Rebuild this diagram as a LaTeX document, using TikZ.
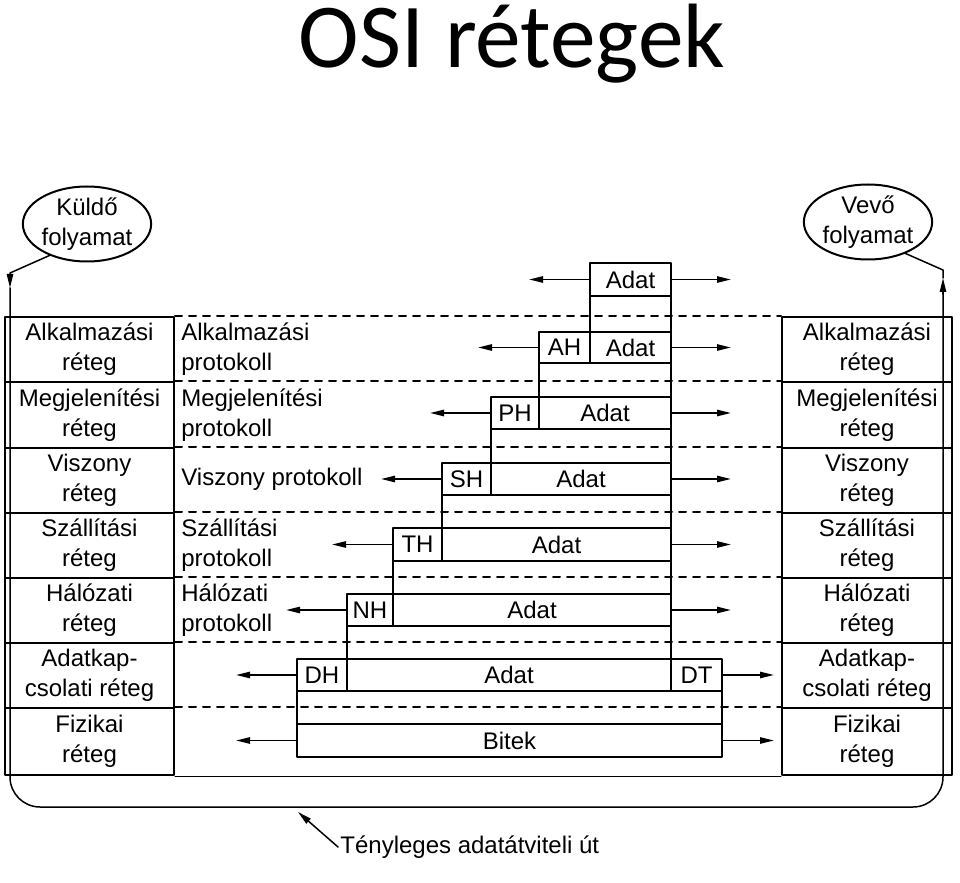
\documentclass[tikz,border=0pt]{standalone}
\usepackage{fontspec}
\setmainfont{Liberation Sans}
\newfontfamily\titlefont{Carlito}
\usetikzlibrary{arrows.meta,shapes.geometric,fit}

\begin{document}
\begin{tikzpicture}[line cap=round,line join=round,>={Triangle[length=7pt,width=3.2pt]},x=0.5pt,y=-0.5pt,
  txt/.style={font=\fontsize{12}{15}\selectfont},
  every label/.style={txt,align=center,inner sep=0pt},
  layerbox/.style={draw,line width=1pt,inner sep=0pt},
  hdr/.style={draw,line width=1pt,inner sep=0pt},
  proto/.style={txt,anchor=west,align=left,inner sep=0pt},
  proc/.style={txt,draw,ellipse,line width=1pt,minimum width=63.5pt,minimum height=37.5pt,inner sep=0pt,align=center},
  layerline/.style={line width=1pt,dash pattern=on 3.5pt off 3.5pt},
  flow/.style={line width=0.75pt}]

\useasboundingbox (0,0) rectangle (960,883);

\node[font=\titlefont\fontsize{45.7}{50}\selectfont,anchor=base] (title) at (512,68) {OSI rétegek};

% kuldo oldal
\node[proc] (kuldo) at (87,224) {Küldő\\folyamat};
\node[layerbox,fit={(5,317) (174,382)},label=center:Alkalmazási\\réteg] (lalk) {};
\node[layerbox,fit={(5,382) (174,448)},label=center:Megjelenítési\\réteg] (lmeg) {};
\node[layerbox,fit={(5,448) (174,513)},label=center:Viszony\\réteg] (lvis) {};
\node[layerbox,fit={(5,513) (174,578)},label=center:Szállítási\\réteg] (lszal) {};
\node[layerbox,fit={(5,578) (174,643)},label=center:Hálózati\\réteg] (lhal) {};
\node[layerbox,fit={(5,643) (174,708)},label=center:Adatkap-\\csolati réteg] (ladat) {};
\node[layerbox,fit={(5,708) (174,775)},label=center:Fizikai\\réteg] (lfiz) {};

% vevo oldal
\node[proc] (vevo) at (868,222) {Vevő\\folyamat};
\node[layerbox,fit={(782,317) (952,382)},label=center:Alkalmazási\\réteg] (ralk) {};
\node[layerbox,fit={(782,382) (952,448)},label=center:Megjelenítési\\réteg] (rmeg) {};
\node[layerbox,fit={(782,448) (952,513)},label=center:Viszony\\réteg] (rvis) {};
\node[layerbox,fit={(782,513) (952,578)},label=center:Szállítási\\réteg] (rszal) {};
\node[layerbox,fit={(782,578) (952,643)},label=center:Hálózati\\réteg] (rhal) {};
\node[layerbox,fit={(782,643) (952,708)},label=center:Adatkap-\\csolati réteg] (radat) {};
\node[layerbox,fit={(782,708) (952,775)},label=center:Fizikai\\réteg] (rfiz) {};

% retegek hatarai
\draw[layerline] (lalk.north east) -- (ralk.north west);
\draw[layerline] (lmeg.north east) -- (rmeg.north west);
\draw[layerline] (lvis.north east) -- (rvis.north west);
\draw[layerline] (lszal.north east) -- (rszal.north west);
\draw[layerline] (lhal.north east) -- (rhal.north west);
\draw[layerline] (ladat.north east) -- (radat.north west);
\draw[layerline] (lfiz.north east) -- (rfiz.north west);
\draw[line width=0.5pt] (lfiz.south east) -- (rfiz.south west);

\node[proto] (palk) at (181,349) {Alkalmazási\\protokoll};
\node[proto] (pmeg) at (181,415) {Megjelenítési\\protokoll};
\node[proto] (pvis) at (181,479) {Viszony protokoll};
\node[proto] (pszal) at (181,545) {Szállítási\\protokoll};
\node[proto] (phal) at (181,610) {Hálózati\\protokoll};

% fejlecek
\node[hdr,fit={(590,263) (671,296)},label=center:Adat] (adat0) {};
\node[hdr,fit={(590,296) (671,332)}] (gap0) {};
\node[hdr,fit={(539,332) (590,363)},label=center:AH] (ah) {};
\node[hdr,fit={(590,332) (671,363)},label=center:Adat] (adat1) {};
\node[hdr,fit={(539,363) (671,397)}] (gap1) {};
\node[hdr,fit={(491,397) (539,429)},label=center:PH] (ph) {};
\node[hdr,fit={(539,397) (671,429)},label=center:Adat] (adat2) {};
\node[hdr,fit={(491,429) (671,463)}] (gap2) {};
\node[hdr,fit={(442,463) (491,495)},label=center:SH] (sh) {};
\node[hdr,fit={(491,463) (671,495)},label=center:Adat] (adat3) {};
\node[hdr,fit={(442,495) (671,528)}] (gap3) {};
\node[hdr,fit={(393,528) (442,561)},label=center:TH] (th) {};
\node[hdr,fit={(442,528) (671,561)},label=center:Adat] (adat4) {};
\node[hdr,fit={(393,561) (671,594)}] (gap4) {};
\node[hdr,fit={(347,594) (393,626)},label=center:NH] (nh) {};
\node[hdr,fit={(393,594) (671,626)},label=center:Adat] (adat5) {};
\node[hdr,fit={(347,626) (671,659)}] (gap5) {};
\node[hdr,fit={(297,659) (347,691)},label=center:DH] (dh) {};
\node[hdr,fit={(347,659) (671,691)},label=center:Adat] (adat6) {};
\node[hdr,fit={(671,659) (722,691)},label=center:DT] (dt) {};
\node[hdr,fit={(297,691) (722,724)}] (gap6) {};
\node[hdr,fit={(297,724) (722,757)},label=center:Bitek] (bitek) {};

\draw[flow,->] (adat0.west) -- ++(-60,0);
\draw[flow,->] (ah.west) -- ++(-60,0);
\draw[flow,->] (ph.west) -- ++(-60,0);
\draw[flow,->] (sh.west) -- ++(-60,0);
\draw[flow,->] (th.west) -- ++(-60,0);
\draw[flow,->] (nh.west) -- ++(-60,0);
\draw[flow,->] (dh.west) -- ++(-60,0);
\draw[flow,->] (bitek.west) -- ++(-60,0);
\draw[flow,->] (adat0.east) -- ++(59,0);
\draw[flow,->] (adat1.east) -- ++(59,0);
\draw[flow,->] (adat2.east) -- ++(59,0);
\draw[flow,->] (adat3.east) -- ++(59,0);
\draw[flow,->] (adat4.east) -- ++(59,0);
\draw[flow,->] (adat5.east) -- ++(59,0);
\draw[flow,->] (dt.east) -- ++(51,0);
\draw[flow,->] (bitek.east) -- ++(51,0);

% tenyleges ut
\coordinate (kbend) at (10,273);
\coordinate (ktip) at (10,288);
\coordinate (bl) at (10,807);
\coordinate (br) at (943,807);
\coordinate (vtail) at (943,294);
\coordinate (vtip) at (943,278);
\coordinate (vbend) at (943,270);
\draw[flow,->] (kuldo.220) -- (kbend) -- (ktip);
\draw[flow,rounded corners=15pt] (ktip) -- (bl) -- (br) -- (vtail);
\draw[flow,->] (vtail) -- (vtip);
\draw[flow] (vtip) -- (vbend) -- (vevo.320);

\node[txt,anchor=west,inner sep=1pt] (ut) at (338,847) {Tényleges adatátviteli út};
\coordinate (utarr) at (298,812);
\draw[flow,->] (ut.west) -- (utarr);
\end{tikzpicture}
\end{document}
